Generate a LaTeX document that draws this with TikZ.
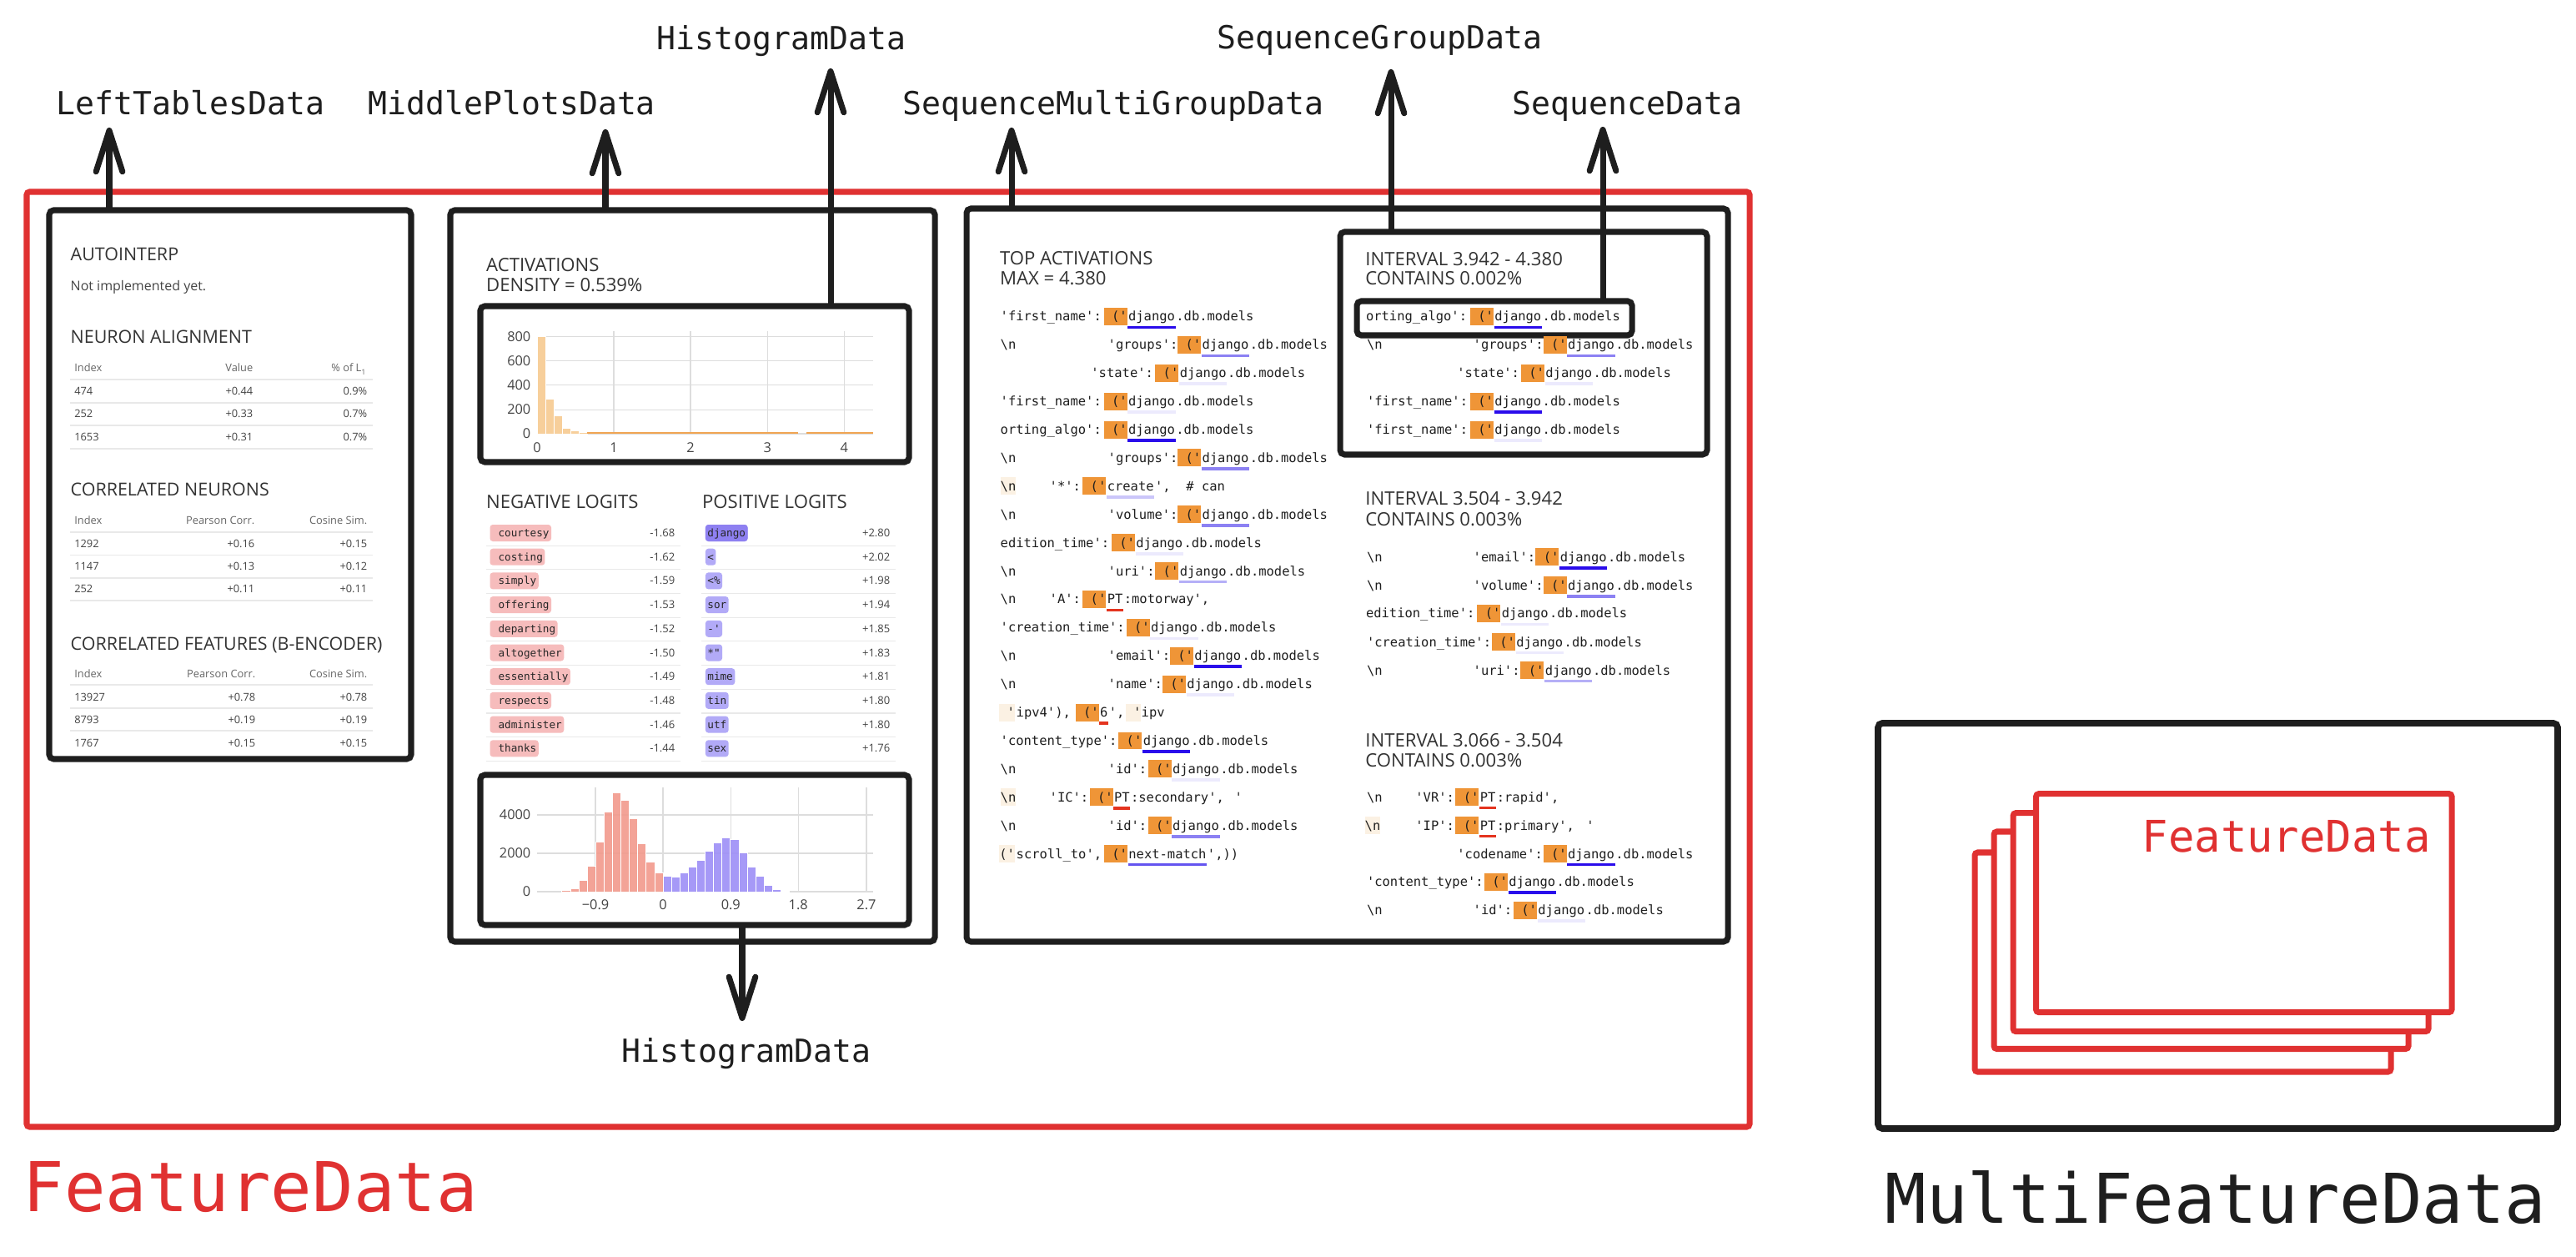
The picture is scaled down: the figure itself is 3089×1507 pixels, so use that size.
\documentclass[tikz,border=0pt]{standalone}
\usepackage{fontspec}
\newfontfamily\uifont{Open Sans}
\newfontfamily\labfont{DejaVu Sans Mono}[Ligatures=TeXOff]
\newfontfamily\codefont{DejaVu Sans Mono}[Ligatures=TeXOff]
\usetikzlibrary{arrows.meta,fit}

\definecolor{ink}{HTML}{1E1E1E}
\definecolor{exred}{HTML}{E03131}
\definecolor{txt}{HTML}{333333}
\definecolor{txtm}{HTML}{444444}
\definecolor{txtl}{HTML}{666666}
\definecolor{sepc}{HTML}{E9E9E9}
\definecolor{gridc}{HTML}{DDDDDD}
\definecolor{actbar}{HTML}{F7CF9B}
\definecolor{actline}{HTML}{F0A553}
\definecolor{negbar}{HTML}{F29A8C}
\definecolor{posbar}{HTML}{9D8EF7}
\definecolor{negpill}{HTML}{F6BCBC}
\definecolor{pospill}{HTML}{B2AAF7}
\definecolor{pospilld}{HTML}{8E80F1}
\definecolor{tokor}{HTML}{EF9537}
\definecolor{beige}{HTML}{FBF1E3}
\definecolor{ulA}{HTML}{2A0CEB}
\definecolor{ulB}{HTML}{8C81F3}
\definecolor{ulC}{HTML}{B5AFF7}
\definecolor{ulE}{HTML}{CBC6FA}
\definecolor{ulD}{HTML}{ECEAFD}
\definecolor{ulR}{HTML}{E4341F}
\definecolor{ulM}{HTML}{6454F0}

\tikzset{
  box/.style={draw=ink, line width=2pt, rounded corners=1.5pt, inner sep=0pt},
  rbox/.style={draw=exred, line width=2pt, rounded corners=1pt, inner sep=0pt},
  stackbox/.style={draw=exred, fill=white, line width=2pt, rounded corners=1pt, inner sep=0pt},
  arr/.style={draw=ink, line width=2pt, line cap=round, -{Straight Barb[length=14pt,width=9pt,round]}},
  lab/.style={font=\labfont\fontsize{10.84pt}{12pt}\selectfont, text=ink, inner sep=0pt, anchor=base west},
  biglab/.style={font=\labfont\fontsize{23.4pt}{26pt}\selectfont, inner sep=0pt, anchor=base west},
  ttl/.style={font=\uifont\fontsize{6.3pt}{7pt}\selectfont, text=txt, inner sep=0pt, anchor=base west},
  ttlL/.style={font=\uifont\fontsize{6.1pt}{7pt}\selectfont, text=txt, inner sep=0pt, anchor=base west},
  smallt/.style={font=\uifont\fontsize{4.55pt}{5pt}\selectfont, text=txtm, inner sep=0pt, anchor=base west},
  tb/.style={font=\uifont\fontsize{3.65pt}{4pt}\selectfont, text=txtm, inner sep=0pt, anchor=base west},
  thd/.style={font=\uifont\fontsize{3.65pt}{4pt}\selectfont, text=txtl, inner sep=0pt, anchor=base west},
  axl/.style={font=\uifont\fontsize{4.65pt}{5pt}\selectfont, text=txtm, inner sep=0pt},
  lval/.style={font=\uifont\fontsize{3.7pt}{4pt}\selectfont, text=txtm, inner sep=0pt, anchor=base east},
  pill/.style={font=\codefont\fontsize{3.6pt}{4pt}\selectfont, text=black!85, inner xsep=0.7pt, inner ysep=0pt, text height=4.15pt, text depth=1.54pt, rounded corners=1pt, anchor=base west},
  ctok/.style={font=\codefont\fontsize{4.4pt}{5pt}\selectfont, text=black!88, inner sep=0pt, anchor=base west},
  sepl/.style={draw=sepc, line width=0.3pt},
  gridl/.style={draw=gridc, line width=0.3pt},
}

\newcounter{nn}
\newcommand{\nl}{\textbackslash n}
% plain code text
\newcommand{\ct}[3]{\stepcounter{nn}\node[ctok] (c\thenn) at (#1,#2) {#3};}
% code token on beige background
\newcommand{\cbg}[3]{\stepcounter{nn}\node[ctok, fill=beige, text height=4.55pt, text depth=1.42pt] (g\thenn) at (#1,#2) {#3};}
% orange token + underlined word + rest
\newcommand{\tk}[5]{%
  \stepcounter{nn}%
  \node[ctok, fill=tokor, text height=4.55pt, text depth=1.42pt] (o\thenn) at (#1,#2) {\hphantom{x}('};%
  \node[ctok] (w\thenn) at (o\thenn.base east) {#3};%
  \draw[draw=#4, line width=1.05pt] ([yshift=-2.13pt]w\thenn.base west) -- ([yshift=-2.13pt]w\thenn.base east);%
  \node[ctok] (r\thenn) at (w\thenn.base east) {#5};%
}
% table rows
\newcommand{\thead}[5]{%
  \stepcounter{nn}%
  \node[thd] (ha\thenn) at (88.6,#1) {#2};%
  \node[thd, anchor=base east] (hb\thenn) at (#5,#1) {#3};%
  \node[thd, anchor=base east] (hc\thenn) at (441,#1) {#4};%
  \draw[sepl] (84,#1+9) -- (447,#1+9);%
}
\newcommand{\trow}[5]{%
  \stepcounter{nn}%
  \node[tb] (ra\thenn) at (88.6,#1) {#2};%
  \node[tb, anchor=base east] (rb\thenn) at (#5,#1) {#3};%
  \node[tb, anchor=base east] (rc\thenn) at (441,#1) {#4};%
  \draw[sepl] (84,#1+9) -- (447,#1+9);%
}
\newcommand{\trowns}[5]{%
  \stepcounter{nn}%
  \node[tb] (ra\thenn) at (88.6,#1) {#2};%
  \node[tb, anchor=base east] (rb\thenn) at (#5,#1) {#3};%
  \node[tb, anchor=base east] (rc\thenn) at (441,#1) {#4};%
}

\begin{document}
\begin{tikzpicture}[x=0.01cm,y=-0.01cm]
\useasboundingbox (0,0) rectangle (3089,1507);
\fill[white] (0,0) rectangle (3089,1507);

% ===== outer frames =====
\node[rbox, fit={(32,230) (2098,1351)}] (fd) {};
\node[box, fit={(59,252) (493,910)}] (lp) {};
\node[box, fit={(540,252) (1121,1129)}] (mp) {};
\node[box, fit={(576,367) (1090,554)}] (ht) {};
\node[box, fit={(576,929) (1090,1109)}] (hb) {};
\node[box, fit={(1159,250) (2072,1129)}] (rp) {};
\node[box, fit={(1607,278) (2047,545)}] (iv) {};
\node[box, fit={(1627,361) (1957,402)}] (hl) {};

% ===== labels =====
\node[lab] (lLeft) at (67,138) {LeftTablesData};
\node[lab] (lMid) at (441,138) {MiddlePlotsData};
\node[lab] (lHistT) at (787,60) {HistogramData};
\node[lab] (lSMG) at (1082,138) {SequenceMultiGroupData};
\node[lab] (lSG) at (1459,59) {SequenceGroupData};
\node[lab] (lSeq) at (1813,138) {SequenceData};
\node[lab] (lHistB) at (745,1273) {HistogramData};
\node[biglab, text=exred] (lFD) at (27,1452) {FeatureData};
\node[biglab, text=ink] (lMFD) at (2260,1466) {MultiFeatureData};

% ===== left panel =====
\node[ttlL] (tAuto) at (84,312.7) {AUTOINTERP};
\node[smallt] (tNot) at (84,349) {Not implemented yet.};
\node[ttlL] (tNeu) at (84,412) {NEURON ALIGNMENT};
\thead{446}{Index}{Value}{\% of L\textsubscript{1}}{304}
\trow{474}{474}{+0.44}{0.9\%}{304}
\trow{501}{252}{+0.33}{0.7\%}{304}
\trow{529}{1653}{+0.31}{0.7\%}{304}
\node[ttlL] (tCN) at (84,595) {CORRELATED NEURONS};
\thead{629}{Index}{Pearson Corr.}{Cosine Sim.}{306}
\trow{656.5}{1292}{+0.16}{+0.15}{306}
\trow{684}{1147}{+0.13}{+0.12}{306}
\trow{711}{252}{+0.11}{+0.11}{306}
\node[ttlL] (tCF) at (84,779) {CORRELATED FEATURES (B-ENCODER)};
\thead{812}{Index}{Pearson Corr.}{Cosine Sim.}{307}
\trow{840}{13927}{+0.78}{+0.78}{307}
\trow{867}{8793}{+0.19}{+0.19}{307}
\trowns{895}{1767}{+0.15}{+0.15}{307}

% ===== middle panel =====
\node[ttl] (tAct) at (582.5,325.6) {ACTIVATIONS};
\node[ttl] (tDen) at (582.5,349.3) {DENSITY = 0.539\%};

% top histogram
\foreach \gx in {736,828,920.4,1012.4} \draw[gridl] (\gx,397) -- (\gx,520);
\foreach \gy in {403.2,432.5,461.8,491.1} \draw[gridl] (644,\gy) -- (1047,\gy);
\draw[gridl] (644,520) -- (1047,520);
\foreach \h [count=\i from 0] in {116.9,41.5,21.4,6.7,3.6,1.8}
  \filldraw[fill=actbar, draw=white, line width=0.2pt] (644+\i*10,520) rectangle ++(10,-\h);
\fill[actline] (704,518.4) rectangle (957,520.4);
\fill[actline] (967,518.4) rectangle (1047,520.4);
\foreach \vl/\gy in {800/403.2,600/432.5,400/461.8,200/491.1,0/520}
  \node[axl, anchor=base east] (hty\vl) at (637,\gy+5.9) {\vl};
\foreach \vl/\gx in {0/644,1/736,2/828,3/920.4,4/1012.4}
  \node[axl, anchor=base] (htx\vl) at (\gx,542.4) {\vl};

% logits
\node[ttl] (tNeg) at (582.5,610) {NEGATIVE LOGITS};
\node[ttl] (tPos) at (841.4,610) {POSITIVE LOGITS};
\foreach \tkn/\vl [count=\i from 0] in {courtesy/-1.68,costing/-1.62,simply/-1.59,offering/-1.53,departing/-1.52,altogether/-1.50,essentially/-1.49,respects/-1.48,administer/-1.46,thanks/-1.44}{
  \node[pill, fill=negpill] (np\i) at (586.8,643.6+\i*28.7) {\hphantom{x}\tkn};
  \node[lval] (nv\i) at (810,643.6+\i*28.7) {\vl};
  \draw[sepl] (582.5,654.1+\i*28.7) -- (815.7,654.1+\i*28.7);
}
\foreach \tkn/\vl [count=\i from 0] in {django/+2.80,</+2.02,<\%/+1.98,sor/+1.94,-'/+1.85,*"/+1.83,mime/+1.81,tin/+1.80,utf/+1.80,sex/+1.76}{
  \node[pill, fill=pospill] (pp\i) at (845.2,643.6+\i*28.7) {\tkn};
  \node[lval] (pv\i) at (1068,643.6+\i*28.7) {\vl};
  \draw[sepl] (840.6,654.1+\i*28.7) -- (1073.8,654.1+\i*28.7);
}
\node[pill, fill=pospilld] (pp0b) at (845.2,643.6) {django};

% bottom histogram
\foreach \gx in {714,795,876.3,957.2,1039} \draw[gridl] (\gx,944) -- (\gx,1069);
\foreach \gy in {977,1023} \draw[gridl] (644,\gy) -- (1047,\gy);
\draw[gridl] (644,1069) -- (1047,1069);
\foreach \h [count=\i from 0] in {1.7,4,13.4,30.2,60.1,95.8,118.6,109.5,88,58.1,35.6,22.8}
  \filldraw[fill=negbar, fill opacity=0.9, draw=white, line width=0.2pt] (673.8+\i*10.1,1069) rectangle ++(10.1,-\h);
\foreach \h [count=\i from 0] in {18.8,17.8,22.5,29.9,38,49,59.1,64.8,62.5,47,29.9,18.8,7.7,2.7,1}
  \filldraw[fill=posbar, fill opacity=0.9, draw=white, line width=0.2pt] (795+\i*10.1,1069) rectangle ++(10.1,-\h);
\foreach \vl/\gy [count=\i] in {4000/977,2000/1023,0/1069}
  \node[axl, anchor=base east] (hby\i) at (637,\gy+5.9) {\vl};
\foreach \vl/\gx [count=\i] in {−0.9/714,0/795,0.9/876.3,1.8/957.2,2.7/1039}
  \node[axl, anchor=base] (hbx\i) at (\gx,1090) {\vl};

% ===== right panel: top activations =====
\node[ttl] (tTop) at (1198.3,317.3) {TOP ACTIVATIONS};
\node[ttl] (tMax) at (1198.3,341.7) {MAX = 4.380};

\ct{1199}{385}{'first\_name':} \tk{1323}{385}{django}{ulA}{.db.models}
\ct{1199}{418.9}{\nl} \ct{1328}{418.9}{'groups':} \tk{1411.5}{418.9}{django}{ulB}{.db.models}
\ct{1307.7}{452.8}{'state':} \tk{1384.7}{452.8}{django}{ulD}{.db.models}
\ct{1199}{486.7}{'first\_name':} \tk{1323}{486.7}{django}{ulD}{.db.models}
\ct{1199}{520.6}{orting\_algo':} \tk{1323}{520.6}{django}{ulA}{.db.models}
\ct{1199}{554.5}{\nl} \ct{1328}{554.5}{'groups':} \tk{1411.5}{554.5}{django}{ulB}{.db.models}
\cbg{1199}{588.4}{\nl} \ct{1258}{588.4}{'*':} \tk{1297.7}{588.4}{create}{ulE}{',} \ct{1421.7}{588.4}{\# can}
\ct{1199}{622.3}{\nl} \ct{1328}{622.3}{'volume':} \tk{1411.5}{622.3}{django}{ulB}{.db.models}
\ct{1199}{656.2}{edition\_time':} \tk{1332.3}{656.2}{django}{ulD}{.db.models}
\ct{1199}{690.1}{\nl} \ct{1328}{690.1}{'uri':} \tk{1384.7}{690.1}{django}{ulC}{.db.models}
\ct{1199}{724}{\nl} \ct{1258}{724}{'A':} \tk{1297.7}{724}{PT}{ulR}{:motorway',}
\ct{1199}{757.9}{'creation\_time':} \tk{1350}{757.9}{django}{ulD}{.db.models}
\ct{1199}{791.8}{\nl} \ct{1328}{791.8}{'email':} \tk{1402.3}{791.8}{django}{ulA}{.db.models}
\ct{1199}{825.7}{\nl} \ct{1328}{825.7}{'name':} \tk{1393.3}{825.7}{django}{ulD}{.db.models}
\cbg{1197.7}{859.6}{\hphantom{x}'} \ct{1218}{859.6}{ipv4'),} \tk{1289}{859.6}{6}{ulR}{',} \cbg{1349}{859.6}{\hphantom{x}'} \ct{1368}{859.6}{ipv}
\ct{1199}{893.5}{'content\_type':} \tk{1340.7}{893.5}{django}{ulA}{.db.models}
\ct{1199}{927.4}{\nl} \ct{1328}{927.4}{'id':} \tk{1376}{927.4}{django}{ulD}{.db.models}
\cbg{1199}{961.3}{\nl} \ct{1258}{961.3}{'IC':} \tk{1306}{961.3}{PT}{ulR}{:secondary',} \ct{1480}{961.3}{'}
\ct{1199}{995.2}{\nl} \ct{1328}{995.2}{'id':} \tk{1376}{995.2}{django}{ulB}{.db.models}
\cbg{1197.7}{1029.1}{('} \ct{1218}{1029.1}{scroll\_to',} \tk{1323.3}{1029.1}{next-match}{ulM}{',))}

% ===== interval 1 =====
\node[ttl] (tI1) at (1636.7,318.3) {INTERVAL 3.942 - 4.380};
\node[ttl] (tC1) at (1636.7,341.7) {CONTAINS 0.002\%};
\ct{1637.3}{385}{orting\_algo':} \tk{1762.3}{385}{django}{ulA}{.db.models}
\ct{1638.3}{418.9}{\nl} \ct{1766}{418.9}{'groups':} \tk{1850}{418.9}{django}{ulB}{.db.models}
\ct{1746.7}{452.8}{'state':} \tk{1823.3}{452.8}{django}{ulD}{.db.models}
\ct{1638.3}{486.7}{'first\_name':} \tk{1762.3}{486.7}{django}{ulA}{.db.models}
\ct{1638.3}{520.6}{'first\_name':} \tk{1762.3}{520.6}{django}{ulD}{.db.models}

% ===== interval 2 =====
\node[ttl] (tI2) at (1636.7,606) {INTERVAL 3.504 - 3.942};
\node[ttl] (tC2) at (1636.7,631) {CONTAINS 0.003\%};
\ct{1638.3}{673.3}{\nl} \ct{1766}{673.3}{'email':} \tk{1840.7}{673.3}{django}{ulA}{.db.models}
\ct{1638.3}{707.3}{\nl} \ct{1766}{707.3}{'volume':} \tk{1850}{707.3}{django}{ulB}{.db.models}
\ct{1637.3}{741}{edition\_time':} \tk{1770.7}{741}{django}{ulD}{.db.models}
\ct{1638.3}{775}{'creation\_time':} \tk{1788.3}{775}{django}{ulD}{.db.models}
\ct{1638.3}{809}{\nl} \ct{1766}{809}{'uri':} \tk{1822.7}{809}{django}{ulC}{.db.models}

% ===== interval 3 =====
\node[ttl] (tI3) at (1636.7,895) {INTERVAL 3.066 - 3.504};
\node[ttl] (tC3) at (1636.7,919.3) {CONTAINS 0.003\%};
\ct{1638.3}{961}{\nl} \ct{1696.7}{961}{'VR':} \tk{1744.7}{961}{PT}{ulR}{:rapid',}
\cbg{1636}{995}{\nl} \ct{1696.7}{995}{'IP':} \tk{1744.7}{995}{PT}{ulR}{:primary',} \ct{1901.7}{995}{'}
\ct{1746.7}{1029}{'codename':} \tk{1850}{1029}{django}{ulA}{.db.models}
\ct{1638.3}{1062.7}{'content\_type':} \tk{1779.3}{1062.7}{django}{ulA}{.db.models}
\ct{1638.3}{1096.7}{\nl} \ct{1766}{1096.7}{'id':} \tk{1814.3}{1096.7}{django}{ulD}{.db.models}

% ===== MultiFeatureData =====
\node[box, line width=2.2pt, fit={(2252,867) (3067,1353)}] (mf) {};
\node[stackbox, fit={(2368,1022) (2867,1285)}] (s4) {};
\node[stackbox, fit={(2391,997) (2888,1257.5)}] (s3) {};
\node[stackbox, fit={(2414,974.6) (2912,1236.7)}] (s2) {};
\node[stackbox, fit={(2441.5,951.6) (2940,1213.7)}] (s1) {};
\node[font=\labfont\fontsize{14.85pt}{16pt}\selectfont, text=exred, inner sep=0pt, anchor=base west] (lFDin) at (2568,1021) {FeatureData};

% ===== arrows =====
\coordinate (aLeft) at (131,153);
\coordinate (aMid) at (726,155);
\coordinate (aHistT) at (996,82);
\coordinate (aSMG) at (1213,153);
\coordinate (aSG) at (1668,83);
\coordinate (aSeq) at (1922,152);
\coordinate (aHistB) at (890,1224);
\draw[arr] (lp.north -| aLeft) -- (aLeft);
\draw[arr] (mp.north -| aMid) -- (aMid);
\draw[arr] (ht.north -| aHistT) -- (aHistT);
\draw[arr] (rp.north -| aSMG) -- (aSMG);
\draw[arr] (iv.north -| aSG) -- (aSG);
\draw[arr] (hl.north -| aSeq) -- (aSeq);
\draw[arr] (hb.south -| aHistB) -- (aHistB);
\end{tikzpicture}
\end{document}
